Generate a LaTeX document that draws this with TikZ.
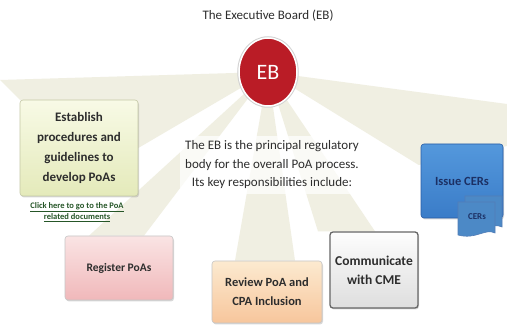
\documentclass[tikz,border=0pt]{standalone}
\usepackage{fontspec}
\setmainfont{Carlito}
\usetikzlibrary{shapes.geometric,shadows,calc,backgrounds}
\definecolor{raycolor}{RGB}{240,239,226}
\definecolor{ebred}{RGB}{186,28,38}
\definecolor{txtcolor}{RGB}{45,45,45}
\definecolor{greentop}{RGB}{248,250,230}
\definecolor{greenbot}{RGB}{228,234,186}
\definecolor{greenline}{RGB}{196,200,166}
\definecolor{pinktop}{RGB}{250,228,228}
\definecolor{pinkbot}{RGB}{240,184,186}
\definecolor{orangetop}{RGB}{252,234,208}
\definecolor{orangebot}{RGB}{247,198,156}
\definecolor{graytop}{RGB}{253,253,253}
\definecolor{graybot}{RGB}{222,222,222}
\definecolor{bluetop}{RGB}{84,152,220}
\definecolor{bluebot}{RGB}{58,124,200}
\definecolor{blueline}{RGB}{40,92,165}
\definecolor{bluetext}{RGB}{28,48,100}
\definecolor{linkgreen}{RGB}{38,86,40}
\tikzset{
  ray/.style      = {fill=raycolor},
  ebnode/.style   = {ellipse, minimum width=58pt, minimum height=68pt, inner sep=0pt,
                     fill=ebred, draw=white, line width=1.5pt, text=white,
                     preaction={draw=gray!35, line width=3.5pt},
                     font=\fontsize{22}{24}\selectfont},
  taskbox/.style  = {rectangle, rounded corners=3pt, align=center, inner sep=2pt,
                     line width=0.6pt, text=txtcolor,
                     drop shadow={opacity=0.3, shadow xshift=1pt, shadow yshift=-1.5pt}},
  establish/.style = {taskbox, draw=greenline, top color=greentop, bottom color=greenbot,
                      font=\fontsize{13}{20}\selectfont\bfseries},
  register/.style  = {taskbox, draw=gray!45, top color=pinktop, bottom color=pinkbot,
                      font=\fontsize{11.5}{19}\selectfont\bfseries},
  review/.style    = {taskbox, draw=gray!45, top color=orangetop, bottom color=orangebot,
                      font=\fontsize{12.5}{19}\selectfont\bfseries},
  communic/.style  = {taskbox, draw=gray!80!black, line width=1.3pt,
                      top color=graytop, bottom color=graybot,
                      font=\fontsize{13.5}{19}\selectfont\bfseries},
  issue/.style     = {taskbox, draw=blueline, top color=bluetop, bottom color=bluebot,
                      text=bluetext, font=\fontsize{12.5}{19}\selectfont\bfseries},
  cerdoc/.style    = {fill=bluetop!90!black, draw=blueline!80, line width=0.6pt},
  infotext/.style  = {align=center, text=txtcolor, font=\fontsize{13}{18.5}\selectfont},
  linktext/.style  = {align=center, text=linkgreen, font=\fontsize{8.5}{11}\selectfont\bfseries}
}

\begin{document}
\begin{tikzpicture}[x=1pt,y=-1pt]

% --- canvas ---
\useasboundingbox (0,0) rectangle (507,328);

% --- nodes ---
\node[txtcolor, font=\fontsize{13}{15}\selectfont] (title) at (268,16) {The Executive Board (EB)};
\node[ebnode] (eb) at (268,72) {EB};
\node[establish, minimum width=118pt, minimum height=96pt] (establish) at (79,148)
  {Establish\\procedures and\\guidelines to\\develop PoAs};
\node[linktext] (link) at (77,212)
  {\underline{Click here to go to the PoA}\\\underline{related documents}};
\node[register, minimum width=108pt, minimum height=64pt] (register) at (119,268) {Register PoAs};
\node[review, minimum width=110pt, minimum height=62pt] (review) at (267,292) {Review PoA and\\CPA Inclusion};
\node[communic, minimum width=88pt, minimum height=76pt] (communic) at (374,270) {Communicate\\with CME};
\node[issue, minimum width=82pt, minimum height=74pt] (issue) at (462,181) {Issue CERs};

% --- CERs document stack ---
\coordinate (cerpos) at (480,216);
\begin{scope}[shift={(cerpos)}]
  \draw[cerdoc] (-15,-20) -- (22,-20) -- (22,11) .. controls (12,6) and (4,18) .. (-15,13) -- cycle;
  \draw[cerdoc] (-22,-14) -- (15,-14) -- (15,17) .. controls (5,12) and (-4,24) .. (-22,19) -- cycle;
\end{scope}
\node[text=bluetext, font=\fontsize{9}{10}\selectfont\bfseries] (cers) at ($(cerpos)+(-3,1)$) {CERs};

% --- intro text ---
\node[infotext, fill=white, fill opacity=0.7, text opacity=1, inner sep=5pt] (intro) at (272,165)
  {The EB is the principal regulatory\\body for the overall PoA process.\\Its key responsibilities include:};

% --- rays from the EB (behind everything) ---
\begin{scope}[on background layer]
  \fill[white] (0,0) rectangle (507,328);
  \fill[ray] (eb.center) -- (0,80) -- (establish.north west) -- (establish.east) -- cycle;
  \fill[ray] (eb.center) -- ($(register.north)+(-30,0)$) -- ($(register.north)+(25,0)$) -- cycle;
  \fill[ray] (eb.center) -- ($(review.north)+(-32,0)$) -- ($(review.north)+(28,0)$) -- cycle;
  \fill[ray] (eb.center) -- ($(communic.north)+(-56,0)$) -- ($(communic.north)+(1,0)$) -- cycle;
  \fill[ray] (eb.center) -- (507,104) -- (507,146) -- ($(issue.west)+(-2,-16)$) -- cycle;
\end{scope}

\end{tikzpicture}
\end{document}
